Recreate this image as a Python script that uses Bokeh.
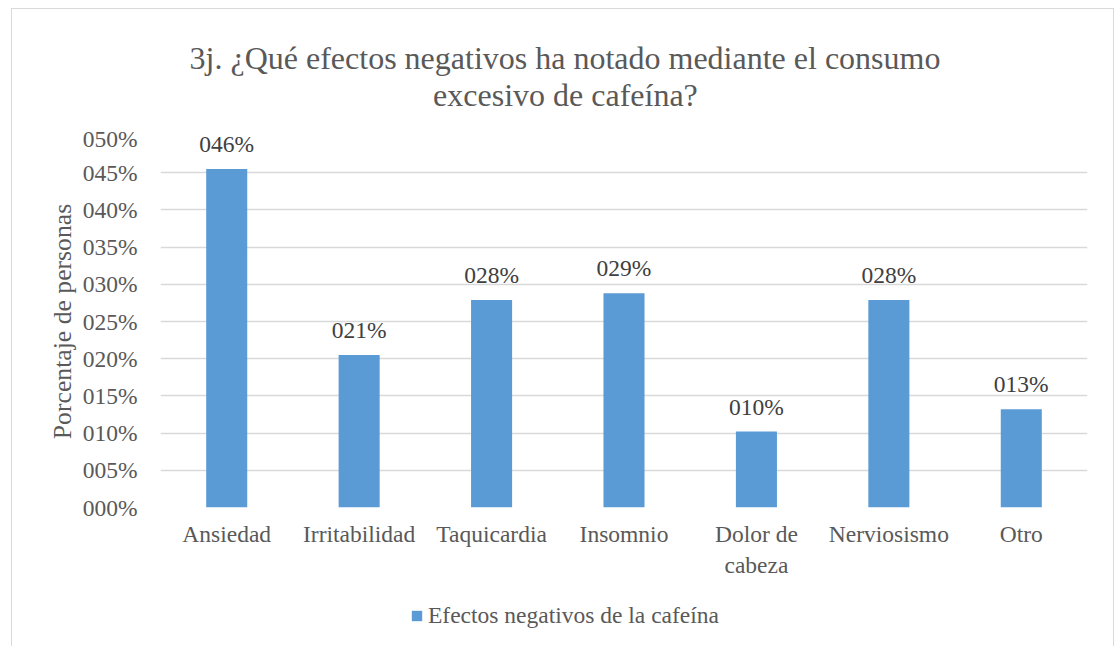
from bokeh.plotting import figure
from bokeh.layouts import column, row
from bokeh.models import (ColumnDataSource, FactorRange, Range1d, FixedTicker, LabelSet,
                          Label, Legend, LegendItem, Spacer)
from bokeh.embed import file_html
from bokeh.resources import INLINE

# ---- data ----
categories = ["Ansiedad", "Irritabilidad", "Taquicardia", "Insomnio",
              "Dolor de\ncabeza", "Nerviosismo", "Otro"]
values = [0.455, 0.205, 0.279, 0.288, 0.102, 0.279, 0.132]
value_labels = ["046%", "021%", "028%", "029%", "010%", "028%", "013%"]
y_ticks = [0.0, 0.05, 0.1, 0.15, 0.2, 0.25, 0.3, 0.35, 0.4, 0.45, 0.5]
y_tick_labels = ["000%", "005%", "010%", "015%", "020%", "025%",
                 "030%", "035%", "040%", "045%", "050%"]
series_name = "Efectos negativos de la cafeína"
title_line1 = "3j. ¿Qué efectos negativos ha notado mediante el consumo"
title_line2 = "excesivo de cafeína?"
y_title = "Porcentaje de personas"

FONT = "Liberation Serif"
GRAY = "#595959"
BAR = "#5B9BD5"
GRID = "#d9d9d9"
BORDER = "1px solid #d9d9d9"

src = ColumnDataSource(dict(cat=categories, val=values, lab=value_labels))

# ---- title strip (page y 8..125) ----
p0 = figure(width=1103, height=117, output_backend="svg", toolbar_location=None,
            x_axis_type=None, y_axis_type=None, min_border=0,
            x_range=Range1d(0, 925), y_range=Range1d(0, 116))
p0.styles = {"border-left": BORDER, "border-top": BORDER, "border-right": BORDER}
p0.title.visible = False
p0.outline_line_color = None
p0.border_fill_color = "white"
for txt, dx, by in [(title_line1, 29, 68), (title_line2, 272, 31)]:
    p0.add_layout(Label(x=dx, y=by, text=txt, text_align="left",
                        text_baseline="alphabetic", text_font=FONT,
                        text_font_size="32px", text_color=GRAY))

# ---- main chart (page y 125..590), frame 135..507 ----
p = figure(x_range=FactorRange(*categories, range_padding=0),
           y_range=Range1d(0, 0.5),
           width=1103, height=465,
           output_backend="svg", toolbar_location=None,
           min_border_left=148, min_border_right=28,
           min_border_top=10, min_border_bottom=83)
p.styles = {"border-left": BORDER, "border-right": BORDER}
p.title.visible = False
p.outline_line_color = None
p.background_fill_color = "white"
p.border_fill_color = "white"

r = p.vbar(x="cat", top="val", width=0.31, source=src,
           fill_color=BAR, line_color=None)

p.yaxis.ticker = FixedTicker(ticks=y_ticks)
p.yaxis.major_label_overrides = {t: s for t, s in zip(y_ticks, y_tick_labels)}
p.yaxis.axis_line_color = None
p.yaxis.major_tick_line_color = None
p.yaxis.minor_tick_line_color = None
p.yaxis.major_label_standoff = 17
p.yaxis.major_label_text_font = FONT
p.yaxis.major_label_text_font_size = "23.5px"
p.yaxis.major_label_text_color = GRAY
p.yaxis.axis_label = y_title
p.yaxis.axis_label_text_font = FONT
p.yaxis.axis_label_text_font_size = "25.7px"
p.yaxis.axis_label_text_font_style = "normal"
p.yaxis.axis_label_text_color = GRAY
p.yaxis.axis_label_standoff = 3

p.xaxis.axis_line_color = None
p.xaxis.major_tick_line_color = None
p.xaxis.minor_tick_line_color = None
p.xaxis.major_label_standoff = 7
p.xaxis.major_label_text_font = FONT
p.xaxis.major_label_text_font_size = "23.5px"
p.xaxis.major_label_text_color = GRAY

p.xgrid.grid_line_color = None
p.ygrid.grid_line_color = GRID
p.ygrid.grid_line_width = 1.5

p.add_layout(LabelSet(x="cat", y="val", text="lab", source=src,
                      text_align="center", text_baseline="alphabetic",
                      y_offset=17, text_font=FONT, text_font_size="23.5px",
                      text_color="#404040"))

# ---- legend strip (page y 590..646) ----
p2 = figure(width=1103, height=56, output_backend="svg", toolbar_location=None,
            x_axis_type=None, y_axis_type=None, min_border=0,
            x_range=p.x_range, y_range=Range1d(10, 11))
p2.styles = {"border-left": BORDER, "border-right": BORDER}
p2.title.visible = False
p2.outline_line_color = None
p2.border_fill_color = "white"
r2 = p2.vbar(x="cat", top="val", width=0.31, source=src,
             fill_color=BAR, line_color=None)   # same series, out of view: legend key only
legend = Legend(items=[LegendItem(label=series_name, renderers=[r2])],
                location=(250, 17), orientation="horizontal",
                glyph_width=13, glyph_height=13, label_standoff=5,
                padding=0, margin=0, border_line_color=None,
                background_fill_alpha=0,
                label_text_font=FONT, label_text_font_size="23.5px",
                label_text_color=GRAY)
p2.add_layout(legend, "center")

page = column(Spacer(height=8), row(Spacer(width=11), column(p0, p, p2)))
open("out.html", "w").write(file_html(page, INLINE))
